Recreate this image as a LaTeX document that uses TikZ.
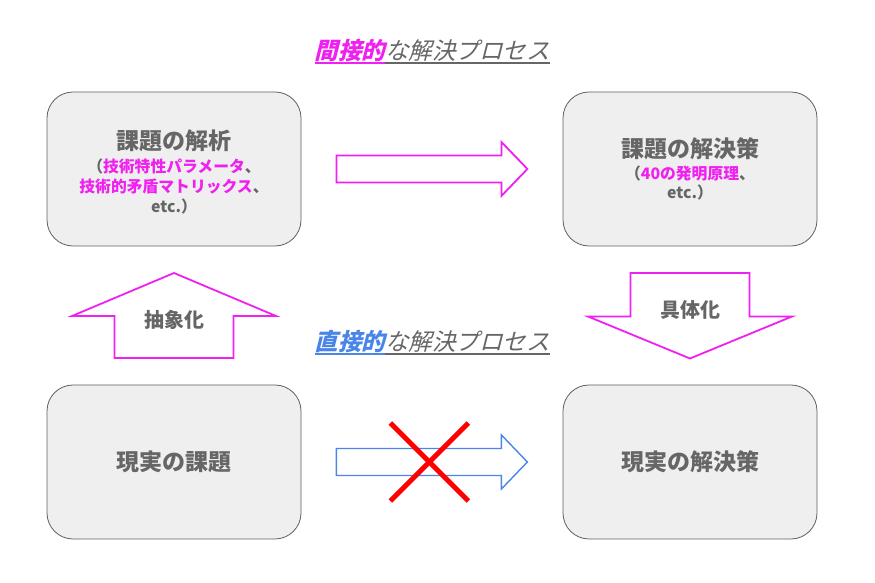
\documentclass[tikz,border=0pt]{standalone}
\usepackage{fontspec}
\setmainfont{Noto Sans CJK JP}
\newfontfamily\slantfont[FakeSlant=0.25]{Noto Sans CJK JP}
\usepackage{xcolor}
\usetikzlibrary{positioning, calc}
\definecolor{txtgray}{HTML}{666666}
\definecolor{boxgray}{HTML}{5F5F5F}
\definecolor{boxfill}{HTML}{EFEFEF}
\definecolor{accent}{HTML}{F020F0}
\definecolor{bluearrow}{HTML}{4A86E8}
\newcommand{\hl}[1]{\textcolor{accent}{#1}}
\newcommand{\ulpart}[2]{\textcolor{#1}{\setbox0\hbox{#2}\rlap{\rule[-4pt]{\wd0}{1.6pt}}\box0}}
\newcommand{\mainsize}{\fontsize{23}{28}\selectfont}
\tikzset{
    problembox/.style={draw=boxgray, thick, fill=boxfill, rounded corners=26pt,
        minimum width=254pt, minimum height=154pt, align=center, text=txtgray,
        font=\bfseries\fontsize{15.8}{19.8}\selectfont},
    boxtext/.style={align=center, text=txtgray, font=\bfseries\fontsize{15.8}{19.8}\selectfont}
}

\begin{document}
\begin{tikzpicture}[
    x=1pt, y=1pt,
    title/.style={font=\slantfont\fontsize{23.5}{27}\selectfont, inner sep=0pt},
    fatarrow/.style={draw=#1, line width=1.8pt, fill=white, line join=miter},
    fatarrow/.default=accent,
    steplabel/.style={font=\bfseries\fontsize{20}{24}\selectfont, text=txtgray},
    cross/.style={draw=red, line width=5pt}
]
\useasboundingbox (0,0) rectangle (875,583);

% Boxes
\node[problembox] (analysis) at (174,414) {};
\node[boxtext] (analysistxt) at ([yshift=-3pt]analysis.center)
    {{\mainsize 課題の解析}\\[3pt]（\hl{技術特性パラメータ}、\\\hl{技術的矛盾マトリックス}、\\etc.）};
\node[problembox] (solution) at (690,414)
    {{\mainsize 課題の解決策}\\[2pt]（\hl{40の発明原理}、\\etc.）};
\node[problembox, font=\bfseries\mainsize] (realprob) at (174,121) {現実の課題};
\node[problembox, font=\bfseries\mainsize] (realsol) at (690,121) {現実の解決策};

% Titles
\node[title] (indirect) at ($(analysis.north)!0.5!(solution.north)+(0,40)$)
    {\ulpart{accent}{\bfseries 間接的}\ulpart{txtgray}{な解決プロセス}};
\node[title] (direct) at ($(realprob.north)!0.5!(realsol.north)+(0,42)$)
    {\ulpart{bluearrow}{\bfseries 直接的}\ulpart{txtgray}{な解決プロセス}};

% Arrow: indirect
\coordinate (tail1) at ([xshift=35pt]analysis.east);
\draw[fatarrow] ([yshift=13.5pt]tail1) -- ++(165,0) -- ++(0,13.5) -- ++(26,-27)
    -- ++(-26,-27) -- ++(0,13.5) -- ++(-165,0) -- cycle;

% Arrow: direct
\coordinate (tail2) at ([xshift=35pt]realprob.east);
\draw[fatarrow=bluearrow, line width=1.4pt] ([yshift=13.5pt]tail2) -- ++(165,0) -- ++(0,13.5) -- ++(26,-27)
    -- ++(-26,-27) -- ++(0,13.5) -- ++(-165,0) -- cycle;

% Cross over direct arrow
\coordinate (xmark) at ([xshift=128pt]realprob.east);
\draw[cross] ([shift={(-39,39)}]xmark) -- ([shift={(39,-39)}]xmark);
\draw[cross] ([shift={(39,39)}]xmark) -- ([shift={(-39,-39)}]xmark);

% Up arrow: abstraction
\coordinate (mid1) at ($(analysis.south)!0.5!(realprob.north)$);
\draw[fatarrow] ([shift={(-59.5,-42.5)}]mid1) -- ++(119,0) -- ++(0,42) -- ++(42.5,0)
    -- ++(-102,43) -- ++(-102,-43) -- ++(42.5,0) -- cycle;
\node[steplabel] (abstr) at ([yshift=-4.5pt]mid1) {抽象化};

% Down arrow: concretization
\coordinate (mid2) at ($(solution.south)!0.5!(realsol.north)$);
\draw[fatarrow] ([shift={(-59.5,42.5)}]mid2) -- ++(119,0) -- ++(0,-43.5) -- ++(42.5,0)
    -- ++(-102,-42) -- ++(-102,42) -- ++(42.5,0) -- cycle;
\node[steplabel] (concr) at ([yshift=5.5pt]mid2) {具体化};

\end{tikzpicture}
\end{document}
